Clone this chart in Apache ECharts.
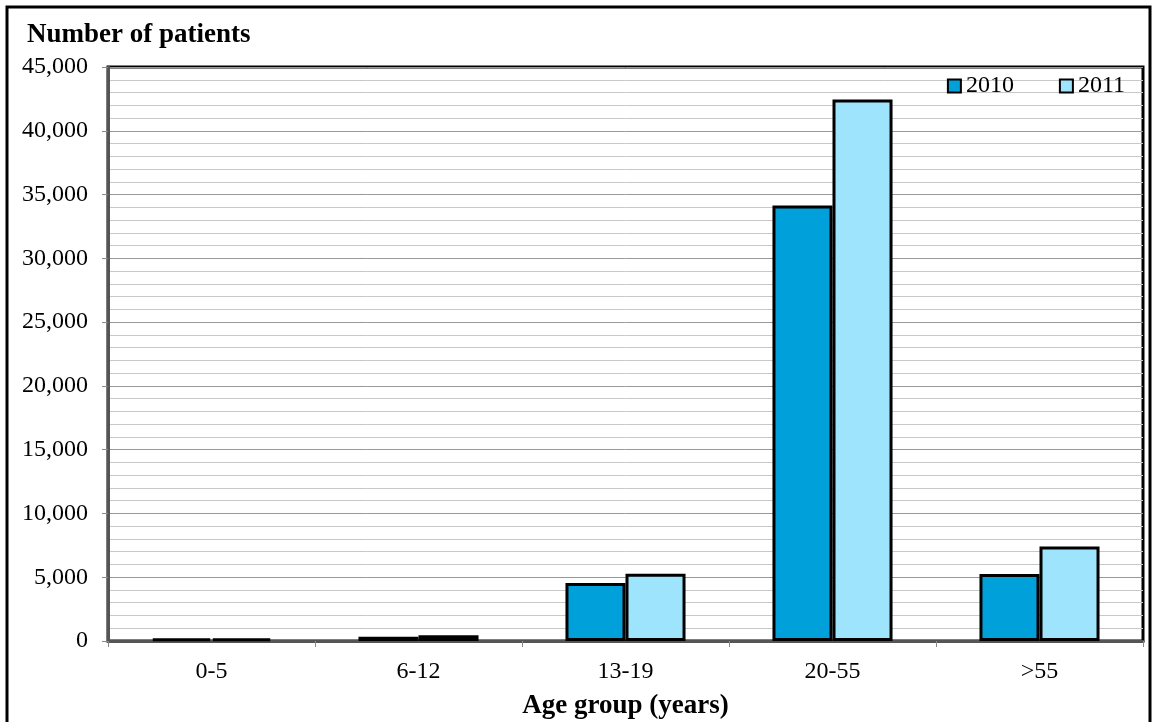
<!DOCTYPE html>
<html>
<head>
<meta charset="utf-8">
<script src="https://cdn.jsdelivr.net/npm/echarts@6/dist/echarts.min.js"></script>
<style>html,body{margin:0;padding:0;background:#fff}#c{width:1154px;height:722px}</style>
</head>
<body>
<div id="c"></div>
<script>
var categories = ['0-5', '6-12', '13-19', '20-55', '>55'];
var seriesNames = ['2010', '2011'];
var values2010 = [200, 330, 4550, 34150, 5250];
var values2011 = [200, 450, 5280, 42450, 7400];
var yTicks = [0, 5000, 10000, 15000, 20000, 25000, 30000, 35000, 40000, 45000];

var font = 'Liberation Serif';
var chart = echarts.init(document.getElementById('c'), null, {renderer: 'canvas'});
chart.setOption({
  animation: false,
  backgroundColor: '#fff',
  graphic: [
    {type: 'rect', shape: {x: 7, y: 7, width: 1143, height: 730}, style: {fill: 'none', stroke: '#000', lineWidth: 3}, z: 0},
    {type: 'text', left: 27, top: 22, style: {text: 'Number of patients', font: 'bold 27px "Liberation Serif"', fill: '#000'}}
  ],
  legend: {
    data: seriesNames,
    top: 74, right: 29, padding: 0,
    itemWidth: 13, itemHeight: 13, itemGap: 45,
    icon: 'rect',
    textStyle: {fontFamily: font, fontSize: 24, color: '#000'}
  },
  grid: {left: 108, right: 11, top: 67, bottom: 81, containLabel: false, outerBoundsMode: 'none',
    show: true, borderColor: '#000', borderWidth: 3, backgroundColor: 'transparent'},
  xAxis: {
    type: 'category', data: categories,
    name: 'Age group (years)', nameLocation: 'middle', nameGap: 52,
    nameTextStyle: {fontFamily: font, fontSize: 27, fontWeight: 'bold', color: '#000'},
    axisLine: {lineStyle: {color: '#555', width: 3}},
    axisTick: {show: true, length: 6, lineStyle: {color: '#888', width: 1}},
    axisLabel: {fontFamily: font, fontSize: 24, color: '#000', margin: 19}
  },
  yAxis: {
    type: 'value', min: 0, max: 45000, interval: 5000,
    axisLine: {show: true, lineStyle: {color: '#555', width: 3}},
    axisTick: {show: true, length: 6, lineStyle: {color: '#888', width: 1}},
    axisLabel: {fontFamily: font, fontSize: 24, color: '#000', margin: 20,
      formatter: function(v){ return yTicks.indexOf(v) >= 0 ? v.toLocaleString('en-US') : ''; }},
    splitLine: {show: true, lineStyle: {color: '#999', width: 1}},
    minorTick: {show: false, splitNumber: 5},
    minorSplitLine: {show: true, lineStyle: {color: '#c8c8c8', width: 1}}
  },
  series: [
    {name: seriesNames[0], type: 'bar', data: values2010, barGap: '0%', barCategoryGap: '42%',
     itemStyle: {color: '#00A0DA', borderColor: '#000', borderWidth: 3}},
    {name: seriesNames[1], type: 'bar', data: values2011, barGap: '0%', barCategoryGap: '42%',
     itemStyle: {color: '#9EE4FC', borderColor: '#000', borderWidth: 3}}
  ]
});
</script>
</body>
</html>
